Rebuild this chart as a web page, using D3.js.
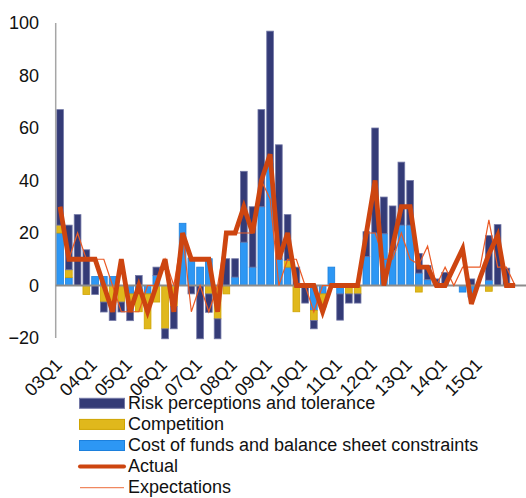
<!DOCTYPE html>
<html><head><meta charset="utf-8">
<script src="https://cdn.jsdelivr.net/npm/d3@7/dist/d3.min.js"></script>
<style>body{margin:0;background:#fff} text{font-family:"Liberation Sans",Arial,sans-serif}</style>
</head><body><svg id="c" width="526" height="498"></svg>
<script>
const quarters = ["03Q1","03Q2","03Q3","03Q4","04Q1","04Q2","04Q3","04Q4","05Q1","05Q2","05Q3","05Q4",
"06Q1","06Q2","06Q3","06Q4","07Q1","07Q2","07Q3","07Q4","08Q1","08Q2","08Q3","08Q4",
"09Q1","09Q2","09Q3","09Q4","10Q1","10Q2","10Q3","10Q4","11Q1","11Q2","11Q3","11Q4",
"12Q1","12Q2","12Q3","12Q4","13Q1","13Q2","13Q3","13Q4","14Q1","14Q2","14Q3","14Q4",
"15Q1","15Q2","15Q3","15Q4","16Q1"];
const risk = [44,17,27,13.6,-3.4,-3.8,-7,-3.8,-7,3.8,0,3.2,
-3.8,-8.5,0,-3.2,-20.3,-7,-7.6,10.2,7,27,23,37,
50.6,43.6,17.5,7,-6.7,-3.2,0,0,-10,-3.5,-3.5,9.5,
40,14,17,24,17,7.5,5.4,2.5,5,0,0,2.5,
0,17,23.2,6.6,0];
const competition = [3,3,0,-3.4,0,-6.3,-6.3,-6.3,-3.2,-6.8,-13.3,-6.3,
-16.5,-8,0,0,0,-3.2,-12.7,-3.2,0,0,0,0,
0,0,2.5,-10,0,-3.8,-5,0,0,-3.2,-3.2,0,
0,0,0,0,0,-2.5,0,0,0,0,0,0,
0,-2.2,0,0,0];
const cost = [20,3,0,0,3.4,3.4,3.4,0,-3.2,-3.2,-3.2,3.8,
0,0,23.7,10.5,7,10.2,0,0,3.2,16.5,7,30,
46.3,10,7,0,0,-9.5,-3.2,7,-3.2,0,0,11,
20,19.7,13.3,23,23,4.7,2.2,0,0,0,-2.5,-4.4,
0,2,0,0,0];
const actual = [30,10,10,10,10,0,-10,10,-10,0,-10,0,
10,-10,20,10,10,10,-10,20,20,30,20,40,
50,10,20,0,0,0,-10,0,0,0,0,20,
40,0,15,30,30,7,7,0,0,7,14,-7,
3,12,19,0,0];
const expectations = [30,10,20,10,10,10,0,-10,-10,-10,0,0,
10,0,20,-10,0,-10,0,20,20,20,20,40,
33,0,10,10,0,-10,0,0,0,0,0,20,
20,10,10,20,10,8,15,0,7,0,7,7,
7,25,7,7,0];
const xTickLabels = ["03Q1","04Q1","05Q1","06Q1","07Q1","08Q1","09Q1","10Q1","11Q1","12Q1","13Q1","14Q1","15Q1"];
const yTicks = [-20,0,20,40,60,80,100];
const seriesNames = ["Risk perceptions and tolerance","Competition","Cost of funds and balance sheet constraints","Actual","Expectations"];

const colors = {risk:"#343b77", competition:"#e0b81c", cost:"#2d97f4", actual:"#cd4510", expectations:"#ea5a25"};
const strokes = {risk:"#7378a6", competition:"#cfa400", cost:"#1c80dd"};

const svg = d3.select("#c");
const x = d3.scaleBand().domain(quarters).range([55.7, 519.5]).paddingInner(0.14).paddingOuter(0.07);
const y = d3.scaleLinear().domain([-20,100]).range([338,23]);
const bw = x.bandwidth();
const cx = q => x(q) + bw/2;

const table = quarters.map((q,i)=>({q, cost:cost[i], competition:competition[i], risk:risk[i]}));
const stacked = d3.stack().keys(["cost","competition","risk"]).offset(d3.stackOffsetDiverging)(table);

const gBars = svg.append("g");
stacked.forEach(layer=>{
  gBars.append("g").selectAll("rect").data(layer.filter(d=>d[0]!==d[1])).join("rect")
    .attr("x", d=>x(d.data.q)+0.4)
    .attr("width", bw-0.8)
    .attr("y", d=>y(Math.max(d[0],d[1])))
    .attr("height", d=>Math.abs(y(d[0])-y(d[1])))
    .attr("fill", colors[layer.key])
    .attr("stroke", strokes[layer.key])
    .attr("stroke-width", 0.8);
});

// y axis
const yAxis = d3.axisLeft(y).tickValues(yTicks).tickSize(0).tickPadding(16.7).tickFormat(d3.format("d"));
const gy = svg.append("g").attr("transform","translate(55.7,0)").call(yAxis);
gy.select(".domain").remove();
gy.selectAll("text").attr("font-size",18).attr("fill","#111").attr("font-family","'Liberation Sans',Arial,sans-serif");
svg.append("line").attr("x1",55.7).attr("x2",55.7).attr("y1",y(100)).attr("y2",y(-20))
  .attr("stroke","#a6a6a6").attr("stroke-width",1.5);
// zero line
svg.append("line").attr("x1",55.7).attr("x2",526).attr("y1",y(0)).attr("y2",y(0))
  .attr("stroke","#8c8c8c").attr("stroke-width",2);

// lines
const line = d3.line().x((d,i)=>cx(quarters[i])).y(d=>y(d));
svg.append("path").datum(expectations).attr("d",line).attr("fill","none")
  .attr("stroke",colors.expectations).attr("stroke-width",1.2);
svg.append("path").datum(actual).attr("d",line).attr("fill","none")
  .attr("stroke",colors.actual).attr("stroke-width",4.8).attr("stroke-linejoin","miter").attr("stroke-miterlimit",4);

// x axis labels
const xAxis = d3.axisBottom(x).tickValues(xTickLabels).tickSize(0);
const gx = svg.append("g").attr("transform",`translate(0,${y(-20)})`).call(xAxis);
gx.select(".domain").remove();
gx.selectAll("text").attr("font-size",18).attr("fill","#111")
  .attr("font-family","'Liberation Sans',Arial,sans-serif")
  .attr("x",0).attr("y",0).attr("dy",0)
  .attr("text-anchor","end")
  .attr("transform","translate(3,28) rotate(-45)");

// legend
const lg = svg.append("g");
const rowY = [403.3, 424.4, 445.5, 466.6, 487.7];
const keys = ["risk","competition","cost","actual","expectations"];
keys.forEach((k,i)=>{
  if (i<3) {
    lg.append("rect").attr("x",79.5).attr("y",rowY[i]-5).attr("width",45).attr("height",10)
      .attr("fill",colors[k]).attr("stroke",strokes[k]).attr("stroke-width",1);
  } else if (k==="actual") {
    lg.append("line").attr("x1",80).attr("x2",124).attr("y1",rowY[i]).attr("y2",rowY[i])
      .attr("stroke",colors[k]).attr("stroke-width",4).attr("stroke-linecap","round");
  } else {
    lg.append("line").attr("x1",80).attr("x2",124).attr("y1",rowY[i]).attr("y2",rowY[i])
      .attr("stroke","#f08860").attr("stroke-width",1.2);
  }
  lg.append("text").attr("x",128).attr("y",rowY[i]+5.3).attr("font-size",18).attr("fill","#111")
    .text(seriesNames[i]);
});
</script></body></html>
